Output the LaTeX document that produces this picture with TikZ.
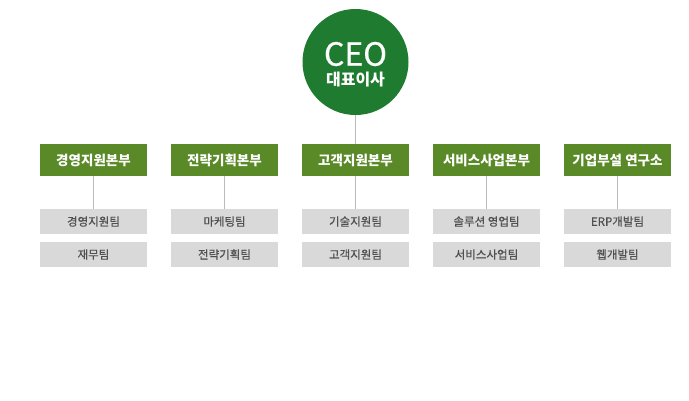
\documentclass[tikz,border=0pt]{standalone}
\usepackage{fontspec}
\setmainfont{Noto Sans CJK KR}
\newfontfamily\krmed[FakeBold=0.6]{Noto Sans CJK KR}
\definecolor{ceogreen}{HTML}{1E7B30}
\definecolor{divgreen}{HTML}{5A8A27}
\definecolor{teamgray}{HTML}{D9D9D9}
\definecolor{teamtext}{HTML}{505050}
\definecolor{linegray}{HTML}{BBBBBB}
\begin{document}
\begin{tikzpicture}[x=1pt,y=-1pt,
  divbox/.style={fill=divgreen,minimum width=107pt,minimum height=32pt,inner sep=0pt,text=white,font=\fontsize{13.5}{15}\selectfont\bfseries},
  teambox/.style={fill=teamgray,minimum width=107pt,minimum height=25pt,inner sep=0pt,text=teamtext,font=\fontsize{11.5}{13}\krmed},
  conn/.style={draw=linegray,line width=0.8pt}]
\useasboundingbox (0,0) rectangle (689,400);
\node[circle,fill=ceogreen,minimum size=106pt,inner sep=0pt] (ceo) at (355.5,62) {};
\node[text=white,font=\fontsize{32}{33}\krmed] (ceot) at (355.5,54) {CEO};
\node[text=white,font=\fontsize{16}{17}\selectfont\bfseries] (ceos) at (355.5,80) {대표이사};
\foreach \i/\d/\a/\b in {0/경영지원본부/경영지원팀/재무팀,1/전략기획본부/마케팅팀/전략기획팀,2/고객지원본부/기술지원팀/고객지원팀,3/서비스사업본부/솔루션 영업팀/서비스사업팀,4/기업부설 연구소/ERP개발팀/웹개발팀}{
  \node[divbox] (d\i) at ({93.5+131*\i},160) {\d};
  \node[teambox] (ta\i) at ({93.5+131*\i},221.5) {\a};
  \node[teambox] (tb\i) at ({93.5+131*\i},254.5) {\b};
  \draw[conn] (d\i.south) -- (ta\i.north);
}
\draw[conn] (ceo.south) -- (d2.north);
\end{tikzpicture}
\end{document}
